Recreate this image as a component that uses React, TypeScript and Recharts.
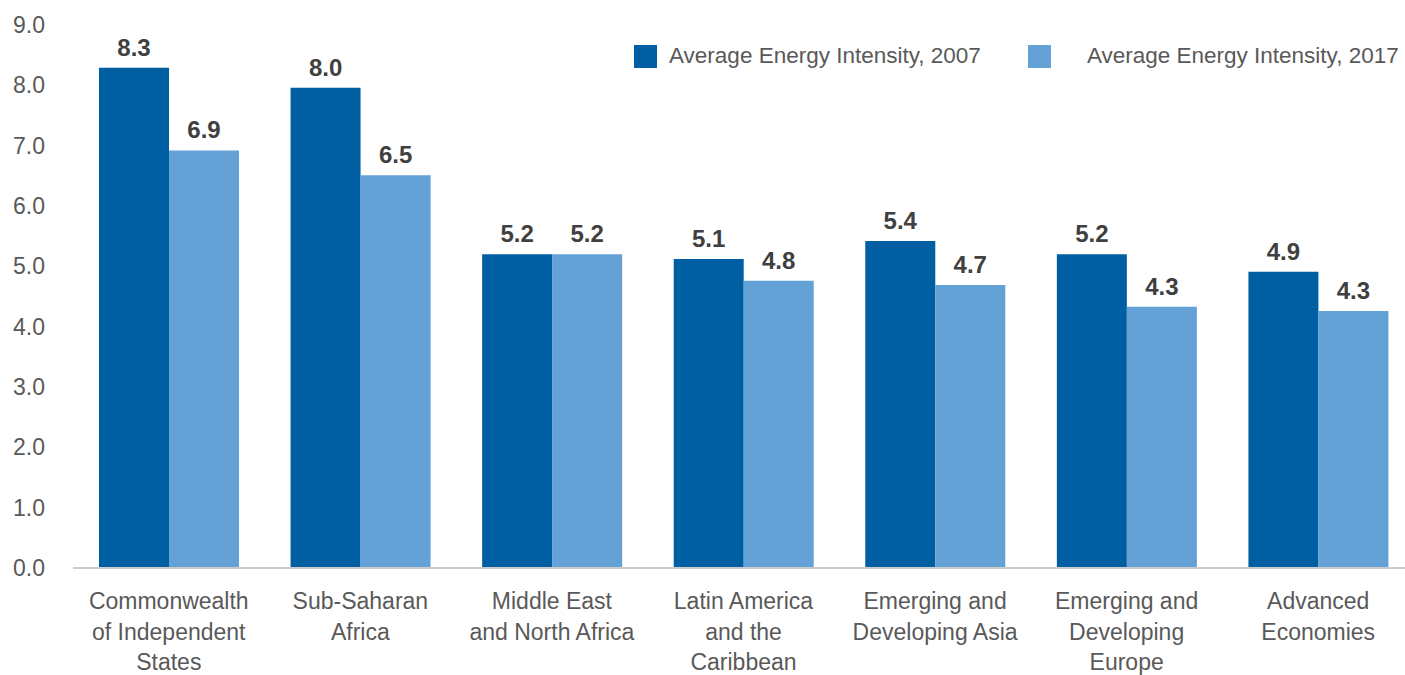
import React from "react";
import { BarChart, Bar, XAxis, YAxis, Legend, LabelList } from "recharts";

const categories = [
  "Commonwealth\nof Independent\nStates",
  "Sub-Saharan\nAfrica",
  "Middle East\nand North Africa",
  "Latin America\nand the\nCaribbean",
  "Emerging and\nDeveloping Asia",
  "Emerging and\nDeveloping\nEurope",
  "Advanced\nEconomies",
];
const intensity2007 = [8.29, 7.96, 5.2, 5.12, 5.42, 5.2, 4.91];
const intensity2017 = [6.92, 6.51, 5.2, 4.76, 4.69, 4.33, 4.26];
const yTicks = [0, 1, 2, 3, 4, 5, 6, 7, 8, 9];

const DARK = "#005ea2";
const LIGHT = "#63a1d7";
const TEXT = "#595959";
const FONT = "'Liberation Sans', Arial, sans-serif";

const data = categories.map((name, i) => ({
  name,
  y2007: intensity2007[i],
  y2017: intensity2017[i],
}));

function CategoryTick(props: any) {
  const { x, y, payload } = props;
  const lines = String(payload.value).split("\n");
  return (
    <text
      x={x}
      y={y}
      textAnchor="middle"
      fill={TEXT}
      fontSize={23}
      fontFamily={FONT}
    >
      {lines.map((line, i) => (
        <tspan key={i} x={x} y={y + 41 + i * 30.5}>
          {line}
        </tspan>
      ))}
    </text>
  );
}

function LegendContent() {
  const item = (color: string, label: string, gap: number, left: number) => (
    <div style={{ display: "flex", alignItems: "center", marginLeft: left }}>
      <div style={{ width: 23, height: 23, background: color, marginRight: gap }} />
      <span style={{ fontSize: 22.5, color: TEXT, fontFamily: FONT, whiteSpace: "nowrap" }}>
        {label}
      </span>
    </div>
  );
  return (
    <div style={{ display: "flex", alignItems: "center" }}>
      {item(DARK, "Average Energy Intensity, 2007", 12, 0)}
      {item(LIGHT, "Average Energy Intensity, 2017", 36, 47)}
    </div>
  );
}

const valueLabel = (key: string) => (
  <LabelList
    dataKey={key}
    position="top"
    offset={12}
    formatter={(v: any) => Number(v).toFixed(1)}
    style={{ fill: "#404040", fontSize: 24, fontWeight: 700, fontFamily: FONT }}
  />
);

export default function App() {
  return (
    <div style={{ width: 1405, height: 675, overflow: "hidden", background: "#fff" }}>
      <style>{`body { margin: 0; }`}</style>
      <BarChart
        width={1414}
        height={675}
        data={data}
        margin={{ top: 25, right: 0, bottom: 0, left: 0 }}
        barGap={0}
      >
        <XAxis
          dataKey="name"
          height={107}
          interval={0}
          tickLine={false}
          tickSize={0}
          tickMargin={0}
          axisLine={{ stroke: "#cccccc", strokeWidth: 2 }}
          tick={<CategoryTick />}
        />
        <YAxis
          width={73}
          domain={[0, 9]}
          ticks={yTicks}
          interval={0}
          axisLine={false}
          tickLine={false}
          tickSize={0}
          tickMargin={28}
          tickFormatter={(v: number) => v.toFixed(1)}
          tick={{ fill: TEXT, fontSize: 23, fontFamily: FONT }}
        />
        <Legend
          verticalAlign="middle"
          align="center"
          layout="horizontal"
          content={<LegendContent />}
          wrapperStyle={{ top: 43, left: 634, width: "auto", height: "auto" }}
        />
        <Bar dataKey="y2007" name="Average Energy Intensity, 2007" fill={DARK} barSize={70} isAnimationActive={false}>
          {valueLabel("y2007")}
        </Bar>
        <Bar dataKey="y2017" name="Average Energy Intensity, 2017" fill={LIGHT} barSize={70} isAnimationActive={false}>
          {valueLabel("y2017")}
        </Bar>
      </BarChart>
    </div>
  );
}
